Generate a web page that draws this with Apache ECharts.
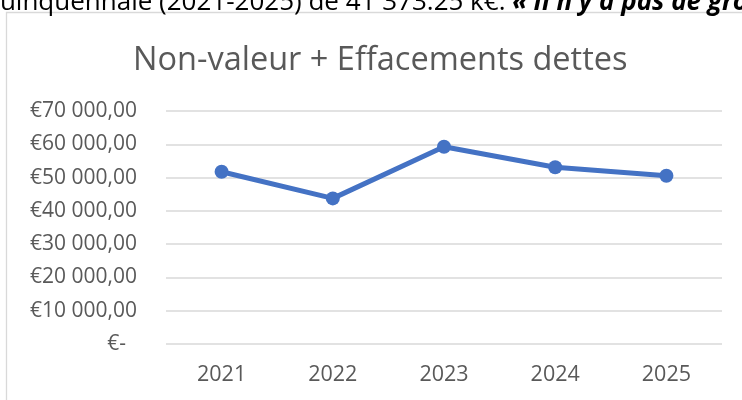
<!DOCTYPE html>
<html>
<head>
    <meta charset="utf-8">
    <title>Non-valeur + Effacements dettes</title>
    <script src="https://cdn.jsdelivr.net/npm/echarts@6/dist/echarts.min.js"></script>
    <style>
        html, body { margin: 0; padding: 0; background: #fff; }
        #chart { width: 742px; height: 400px; }
    </style>
</head>
<body>
    <div id="chart"></div>
    <script>
        // données
        var annees = ['2021', '2022', '2023', '2024', '2025'];
        var montants = [51750, 43750, 59250, 53100, 50550];
        var axeMin = 0;
        var axeMax = 70000;
        var axePas = 10000;
        var texteHaut = 'quinquennale (2021-2025) de 41 373.25 k€. ';
        var texteHautGras = '« Il n\'y a pas de grosse';

        function euro(v) {
            if (v === 0) return '€-  ';
            var s = String(Math.round(v)).replace(/\B(?=(\d{3})+(?!\d))/g, ' ');
            return '€' + s + ',00';
        }

        var myChart = echarts.init(document.getElementById('chart'));
        var option = {
            backgroundColor: '#fff',
            animation: false,
            textStyle: { fontFamily: 'Open Sans' },
            title: {
                text: 'Non-valeur + Effacements dettes',
                left: 128,
                top: 39,
                textStyle: {
                    color: '#595959',
                    fontFamily: 'Open Sans',
                    fontWeight: 'normal',
                    fontSize: 32.5
                }
            },
            graphic: [{
                type: 'rect',
                shape: { x: 6.5, y: 12.5, width: 900, height: 600 },
                style: { fill: null, stroke: '#d9d9d9', lineWidth: 1.3 },
                silent: true
            }, {
                type: 'text',
                x: -16,
                y: 16,
                style: {
                    text: '{n|' + texteHaut + '}{b|' + texteHautGras + '}',
                    textVerticalAlign: 'bottom',
                    rich: {
                        n: { fontFamily: 'Open Sans', fontSize: 26, color: '#000' },
                        b: { fontFamily: 'Open Sans', fontSize: 26, color: '#000', fontWeight: 'bold', fontStyle: 'italic' }
                    }
                },
                silent: true
            }],
            grid: {
                left: 166,
                right: 20,
                top: 111,
                bottom: 56,
                containLabel: false
            },
            xAxis: {
                type: 'category',
                data: annees,
                boundaryGap: true,
                axisLine: { show: false },
                axisTick: { show: false },
                axisLabel: {
                    color: '#595959',
                    fontSize: 21.5,
                    margin: 20
                }
            },
            yAxis: {
                type: 'value',
                min: axeMin,
                max: axeMax,
                interval: axePas,
                axisLine: { show: false },
                axisTick: { show: false },
                axisLabel: {
                    color: '#595959',
                    fontSize: 21,
                    margin: 29,
                    formatter: euro
                },
                splitLine: {
                    lineStyle: { color: '#d9d9d9', width: 1.5 }
                }
            },
            series: [{
                type: 'line',
                data: montants,
                symbol: 'circle',
                symbolSize: 14,
                lineStyle: { color: '#4472C4', width: 5 },
                itemStyle: { color: '#4472C4' }
            }]
        };
        myChart.setOption(option);
    </script>
</body>
</html>
